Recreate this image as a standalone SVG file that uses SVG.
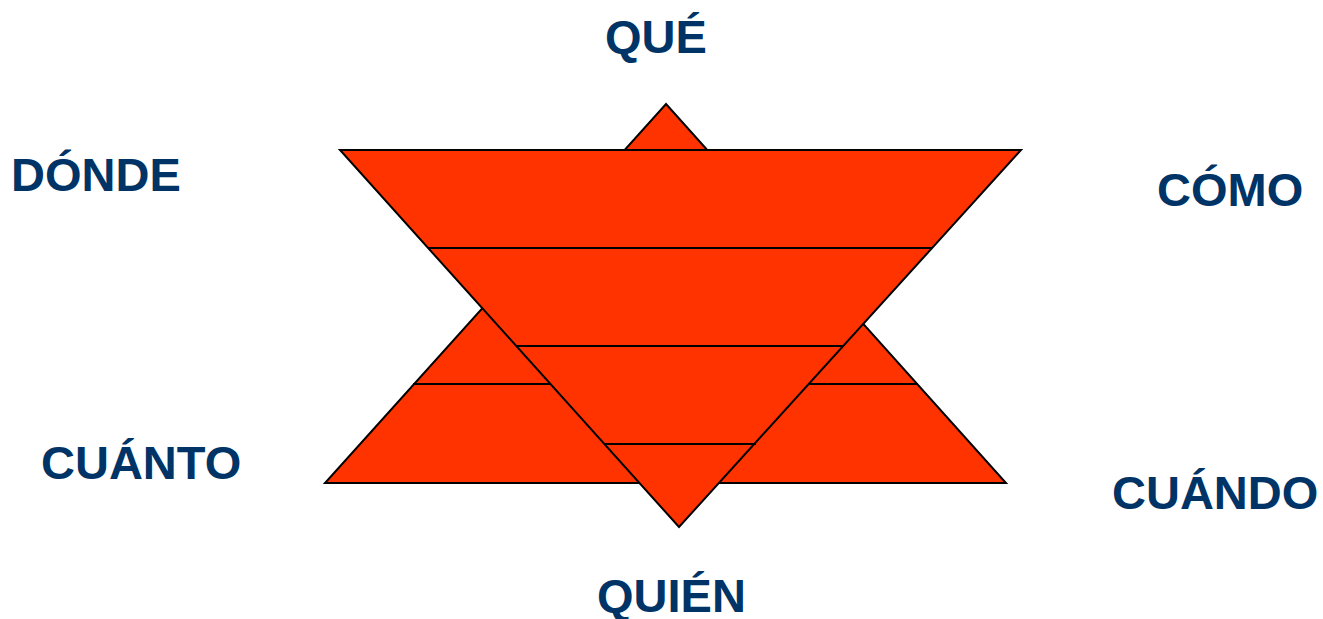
<svg xmlns="http://www.w3.org/2000/svg" width="1323" height="619" viewBox="0 0 1323 619">
<style>
.shape{fill:#FF3300;stroke:#000;stroke-width:2;stroke-linejoin:miter}
.ln{stroke:#000;stroke-width:2;fill:none}
.lbl{font-family:"Liberation Sans",Arial,sans-serif;font-weight:bold;font-size:47px;fill:#003366}
</style>
<rect width="1323" height="619" fill="#fff"/>
<g id="up-triangle">
<polygon class="shape" points="666,104 1006,483 325,483"/>
<line class="ln" x1="413" y1="384" x2="918" y2="384"/>
</g>
<g id="down-triangle">
<polygon class="shape" points="340,150 1021,150 679,527"/>
<line class="ln" x1="428" y1="248" x2="932" y2="248"/>
<line class="ln" x1="516" y1="346" x2="844" y2="346"/>
<line class="ln" x1="604" y1="444" x2="756" y2="444"/>
</g>
<g id="labels">
<text class="lbl" x="605" y="53">QUÉ</text>
<text class="lbl" x="11" y="191">DÓNDE</text>
<text class="lbl" x="1157" y="206">CÓMO</text>
<text class="lbl" x="41" y="479">CUÁNTO</text>
<text class="lbl" x="1112" y="509">CUÁNDO</text>
<text class="lbl" x="597" y="612">QUIÉN</text>
</g>
</svg>
